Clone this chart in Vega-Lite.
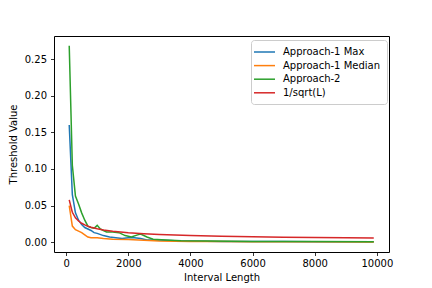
{
  "$schema": "https://vega.github.io/schema/vega-lite/v6.json",
  "width": 335,
  "height": 216,
  "autosize": "none",
  "padding": {"left": 54, "top": 36, "right": 43, "bottom": 36},
  "background": "white",
  "config": {
    "view": {"stroke": "black", "strokeWidth": 1},
    "font": "DejaVu Sans",
    "axis": {
      "grid": false, "domain": false, "tickColor": "black", "tickSize": 3.5, "tickWidth": 0.8,
      "labelFont": "DejaVu Sans", "labelFontSize": 10, "labelColor": "black",
      "titleFont": "DejaVu Sans", "titleFontSize": 10, "titleFontWeight": "normal", "titleColor": "black"
    }
  },
  "data": {"values": [
    {"series": "Approach-1 Max", "L": 100, "value": 0.160},
    {"series": "Approach-1 Max", "L": 200, "value": 0.065},
    {"series": "Approach-1 Max", "L": 300, "value": 0.040},
    {"series": "Approach-1 Max", "L": 400, "value": 0.030},
    {"series": "Approach-1 Max", "L": 500, "value": 0.024},
    {"series": "Approach-1 Max", "L": 600, "value": 0.020},
    {"series": "Approach-1 Max", "L": 700, "value": 0.018},
    {"series": "Approach-1 Max", "L": 800, "value": 0.016},
    {"series": "Approach-1 Max", "L": 900, "value": 0.013},
    {"series": "Approach-1 Max", "L": 1000, "value": 0.012},
    {"series": "Approach-1 Max", "L": 1200, "value": 0.009},
    {"series": "Approach-1 Max", "L": 1400, "value": 0.007},
    {"series": "Approach-1 Max", "L": 1600, "value": 0.006},
    {"series": "Approach-1 Max", "L": 1800, "value": 0.005},
    {"series": "Approach-1 Max", "L": 2000, "value": 0.006},
    {"series": "Approach-1 Max", "L": 2200, "value": 0.006},
    {"series": "Approach-1 Max", "L": 2400, "value": 0.005},
    {"series": "Approach-1 Max", "L": 2600, "value": 0.003},
    {"series": "Approach-1 Max", "L": 3000, "value": 0.003},
    {"series": "Approach-1 Max", "L": 3500, "value": 0.002},
    {"series": "Approach-1 Max", "L": 4000, "value": 0.0015},
    {"series": "Approach-1 Max", "L": 5000, "value": 0.001},
    {"series": "Approach-1 Max", "L": 6000, "value": 0.001},
    {"series": "Approach-1 Max", "L": 7000, "value": 0.0008},
    {"series": "Approach-1 Max", "L": 8000, "value": 0.0007},
    {"series": "Approach-1 Max", "L": 9000, "value": 0.0006},
    {"series": "Approach-1 Max", "L": 9900, "value": 0.0005},
    {"series": "Approach-1 Median", "L": 100, "value": 0.050},
    {"series": "Approach-1 Median", "L": 200, "value": 0.022},
    {"series": "Approach-1 Median", "L": 300, "value": 0.017},
    {"series": "Approach-1 Median", "L": 400, "value": 0.015},
    {"series": "Approach-1 Median", "L": 500, "value": 0.013},
    {"series": "Approach-1 Median", "L": 600, "value": 0.010},
    {"series": "Approach-1 Median", "L": 700, "value": 0.007},
    {"series": "Approach-1 Median", "L": 800, "value": 0.006},
    {"series": "Approach-1 Median", "L": 1000, "value": 0.006},
    {"series": "Approach-1 Median", "L": 1200, "value": 0.005},
    {"series": "Approach-1 Median", "L": 1500, "value": 0.004},
    {"series": "Approach-1 Median", "L": 2000, "value": 0.0035},
    {"series": "Approach-1 Median", "L": 2500, "value": 0.0027},
    {"series": "Approach-1 Median", "L": 3000, "value": 0.0015},
    {"series": "Approach-1 Median", "L": 4000, "value": 0.001},
    {"series": "Approach-1 Median", "L": 5000, "value": 0.0008},
    {"series": "Approach-1 Median", "L": 6000, "value": 0.0006},
    {"series": "Approach-1 Median", "L": 7000, "value": 0.0005},
    {"series": "Approach-1 Median", "L": 8000, "value": 0.0005},
    {"series": "Approach-1 Median", "L": 9900, "value": 0.0004},
    {"series": "Approach-2", "L": 100, "value": 0.268},
    {"series": "Approach-2", "L": 200, "value": 0.105},
    {"series": "Approach-2", "L": 300, "value": 0.063},
    {"series": "Approach-2", "L": 400, "value": 0.052},
    {"series": "Approach-2", "L": 500, "value": 0.040},
    {"series": "Approach-2", "L": 600, "value": 0.030},
    {"series": "Approach-2", "L": 700, "value": 0.022},
    {"series": "Approach-2", "L": 800, "value": 0.020},
    {"series": "Approach-2", "L": 900, "value": 0.019},
    {"series": "Approach-2", "L": 1000, "value": 0.023},
    {"series": "Approach-2", "L": 1100, "value": 0.018},
    {"series": "Approach-2", "L": 1200, "value": 0.016},
    {"series": "Approach-2", "L": 1300, "value": 0.014},
    {"series": "Approach-2", "L": 1500, "value": 0.014},
    {"series": "Approach-2", "L": 1700, "value": 0.013},
    {"series": "Approach-2", "L": 1900, "value": 0.009},
    {"series": "Approach-2", "L": 2100, "value": 0.007},
    {"series": "Approach-2", "L": 2300, "value": 0.010},
    {"series": "Approach-2", "L": 2400, "value": 0.011},
    {"series": "Approach-2", "L": 2600, "value": 0.007},
    {"series": "Approach-2", "L": 2800, "value": 0.004},
    {"series": "Approach-2", "L": 3200, "value": 0.003},
    {"series": "Approach-2", "L": 3700, "value": 0.002},
    {"series": "Approach-2", "L": 4500, "value": 0.0015},
    {"series": "Approach-2", "L": 6000, "value": 0.001},
    {"series": "Approach-2", "L": 8000, "value": 0.0008},
    {"series": "Approach-2", "L": 9900, "value": 0.0007},
    {"series": "1/sqrt(L)", "L": 100, "value": 0.0577},
    {"series": "1/sqrt(L)", "L": 200, "value": 0.0408},
    {"series": "1/sqrt(L)", "L": 300, "value": 0.0333},
    {"series": "1/sqrt(L)", "L": 400, "value": 0.0289},
    {"series": "1/sqrt(L)", "L": 500, "value": 0.0258},
    {"series": "1/sqrt(L)", "L": 600, "value": 0.0236},
    {"series": "1/sqrt(L)", "L": 700, "value": 0.0218},
    {"series": "1/sqrt(L)", "L": 800, "value": 0.0204},
    {"series": "1/sqrt(L)", "L": 1000, "value": 0.0183},
    {"series": "1/sqrt(L)", "L": 1200, "value": 0.0167},
    {"series": "1/sqrt(L)", "L": 1500, "value": 0.0149},
    {"series": "1/sqrt(L)", "L": 2000, "value": 0.0129},
    {"series": "1/sqrt(L)", "L": 2500, "value": 0.0115},
    {"series": "1/sqrt(L)", "L": 3000, "value": 0.0105},
    {"series": "1/sqrt(L)", "L": 4000, "value": 0.0091},
    {"series": "1/sqrt(L)", "L": 5000, "value": 0.0082},
    {"series": "1/sqrt(L)", "L": 6000, "value": 0.0074},
    {"series": "1/sqrt(L)", "L": 7000, "value": 0.0069},
    {"series": "1/sqrt(L)", "L": 8000, "value": 0.0065},
    {"series": "1/sqrt(L)", "L": 9000, "value": 0.0061},
    {"series": "1/sqrt(L)", "L": 9900, "value": 0.0058}
  ]},
  "mark": {"type": "line", "strokeWidth": 1.5},
  "encoding": {
    "x": {
      "field": "L", "type": "quantitative",
      "scale": {"domain": [-390, 10390], "nice": false, "zero": false},
      "axis": {"values": [0, 2000, 4000, 6000, 8000, 10000], "format": "d", "title": "Interval Length", "labelPadding": 3, "titlePadding": 4}
    },
    "y": {
      "field": "value", "type": "quantitative",
      "scale": {"domain": [-0.0134, 0.2814], "nice": false, "zero": false},
      "axis": {"values": [0, 0.05, 0.1, 0.15, 0.2, 0.25], "format": ".2f", "title": "Threshold Value", "labelPadding": 4, "titlePadding": 6}
    },
    "color": {
      "field": "series", "type": "nominal",
      "scale": {
        "domain": ["Approach-1 Max", "Approach-1 Median", "Approach-2", "1/sqrt(L)"],
        "range": ["#1f77b4", "#ff7f0e", "#2ca02c", "#d62728"]
      },
      "legend": {
        "title": null, "orient": "none", "legendX": 197, "legendY": 4,
        "symbolType": "M-1.8,0H2.4", "symbolSize": 100, "symbolStrokeWidth": 1.5,
        "labelFont": "DejaVu Sans", "labelFontSize": 10, "labelColor": "black", "labelOffset": 14,
        "rowPadding": 2.6, "padding": 6,
        "strokeColor": "#cccccc", "fillColor": "white", "cornerRadius": 3
      }
    }
  }
}
